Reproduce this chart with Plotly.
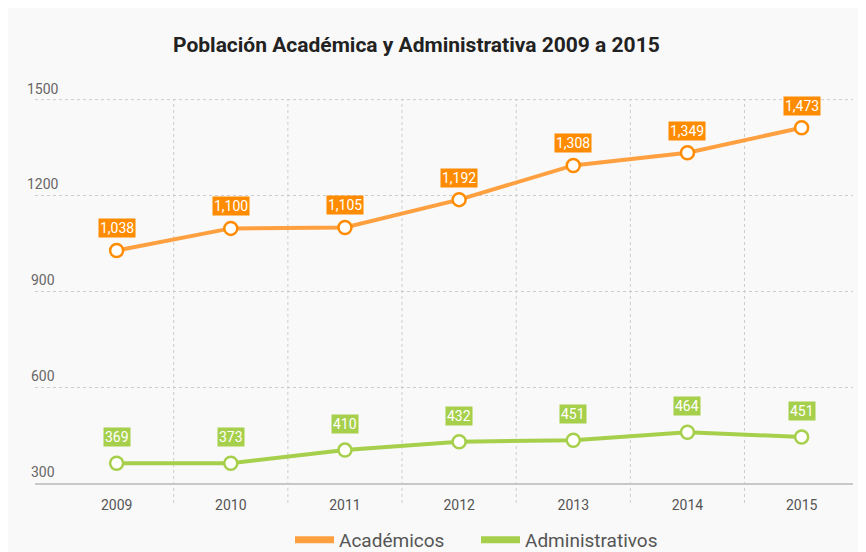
import plotly.graph_objects as go

# ---- data ----
years = ["2009", "2010", "2011", "2012", "2013", "2014", "2015"]
academicos = [1028, 1097, 1100, 1187, 1294, 1334, 1412]          # plotted positions
academicos_labels = ["1,038", "1,100", "1,105", "1,192", "1,308", "1,349", "1,473"]
administrativos = [362, 362, 403, 429, 434, 459, 444]              # plotted positions
administrativos_labels = ["369", "373", "410", "432", "451", "464", "451"]
y_ticks = [300, 600, 900, 1200, 1500]
title_text = "Población Académica y Administrativa 2009 a 2015"

ORANGE_LINE = "#ffa040"
ORANGE_DARK = "#ff8c00"
GREEN_LINE = "#a6cf4b"
GREEN_DARK = "#a6cf4b"
FONT = "Roboto"

fig = go.Figure()

series = [
    ("Académicos", academicos, ORANGE_LINE, ORANGE_DARK, "legend"),
    ("Administrativos", administrativos, GREEN_LINE, GREEN_DARK, "legend2"),
]
for name, vals, line_c, mark_c, lg in series:
    fig.add_trace(go.Scatter(
        x=years, y=vals, mode="lines+markers", showlegend=False,
        line=dict(color=line_c, width=4),
        marker=dict(size=13, color="white", line=dict(color=mark_c, width=2.5)),
        hoverinfo="skip",
    ))
    # legend-only swatch
    fig.add_trace(go.Scatter(
        x=[None], y=[None], mode="lines", name=name, legend=lg,
        line=dict(color=line_c, width=7),
    ))

annotations = []
for vals, labels, bg, off in [
    (academicos, academicos_labels, ORANGE_DARK, 22),
    (administrativos, administrativos_labels, GREEN_DARK, 26),
]:
    for i, (v, lab) in enumerate(zip(vals, labels)):
        annotations.append(dict(
            x=i, xref="x", y=v, yref="y", text=lab, showarrow=False, yshift=off,
            bgcolor=bg, borderpad=1,
            font=dict(family=FONT, size=14, color="white"),
        ))

for t in y_ticks:
    annotations.append(dict(
        x=0, xref="paper", y=t, yref="y", text=str(t), showarrow=False,
        xshift=8, yshift=11, xanchor="center", yanchor="middle",
        font=dict(family=FONT, size=14, color="#666666"),
    ))

annotations.append(dict(
    x=0.466, xref="paper", y=1.14, yref="paper", text="<b>" + title_text + "</b>",
    showarrow=False, xanchor="center", yanchor="middle",
    font=dict(family=FONT, size=21, color="#222222"),
))

shapes = []
for i in range(len(years) - 1):
    shapes.append(dict(
        type="line", xref="x", yref="paper", x0=i + 0.5, x1=i + 0.5,
        y0=-0.052, y1=1, line=dict(color="#cccccc", width=1, dash="dot"),
        layer="below",
    ))
# top gridline (at the upper edge of the plot area)
shapes.append(dict(
    type="line", xref="paper", yref="y", x0=0, x1=1, y0=y_ticks[-1], y1=y_ticks[-1],
    line=dict(color="#cccccc", width=1, dash="dot"), layer="below",
))

legend_common = dict(orientation="h", xanchor="left", y=-0.148, yanchor="middle",
                     font=dict(family=FONT, size=19, color="#555555"),
                     bgcolor="rgba(0,0,0,0)", itemwidth=39)

fig.update_layout(
    width=866, height=552,
    # page body has an 8px offset; plot area lands at x 35..853, y 99..483 on screen
    margin=dict(l=27, r=21, t=91, b=77, autoexpand=False),
    paper_bgcolor="#f9f9f9", plot_bgcolor="#f9f9f9",
    annotations=annotations, shapes=shapes,
    legend=dict(x=(290 - 35) / 818, **legend_common),
    legend2=dict(x=(476 - 35) / 818, **legend_common),
    xaxis=dict(
        type="category", range=[-0.715, 6.45], showgrid=False, zeroline=False,
        showline=True, linecolor="#c8c8c8", linewidth=2,
        ticks="outside", ticklen=8, tickcolor="rgba(0,0,0,0)",
        tickfont=dict(family=FONT, size=14, color="#555555"),
    ),
    yaxis=dict(
        range=[300, 1502], tickvals=y_ticks, showticklabels=False,
        showgrid=True, gridcolor="#cccccc", griddash="dot", gridwidth=1,
        zeroline=False, showline=False,
    ),
    hovermode=False,
)

fig.write_html("out.html")
